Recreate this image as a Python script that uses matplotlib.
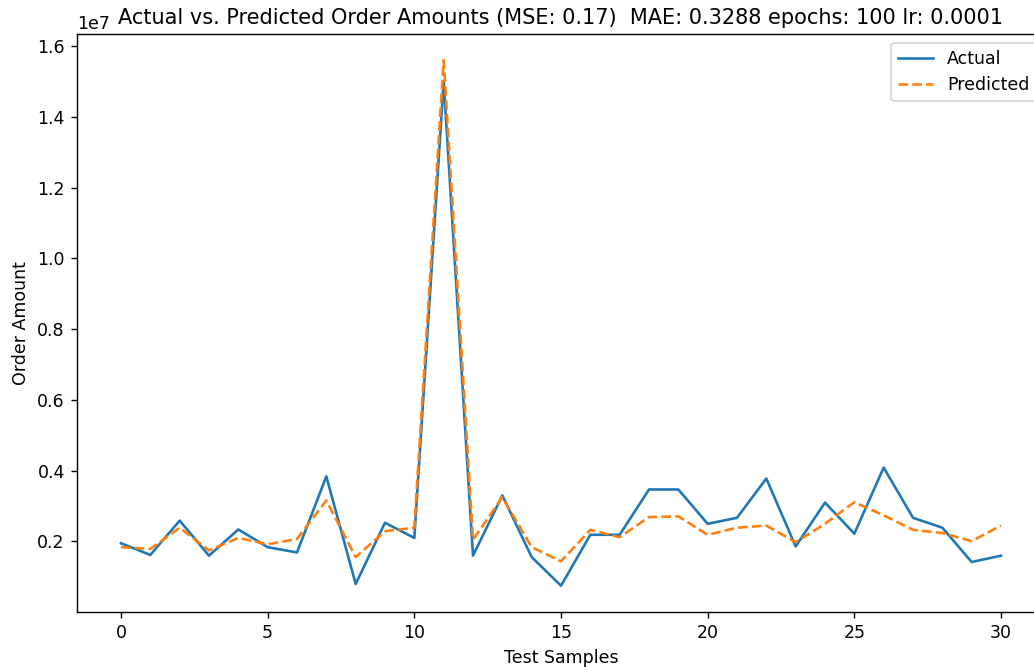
import matplotlib
matplotlib.use("Agg")
import matplotlib.pyplot as plt

# values (order amounts)
samples = list(range(31))
actual = [1.95e6, 1.62e6, 2.59e6, 1.60e6, 2.34e6, 1.84e6, 1.69e6, 3.84e6, 0.80e6, 2.53e6,
          2.10e6, 15.0e6, 1.60e6, 3.30e6, 1.56e6, 0.75e6, 2.19e6, 2.19e6, 3.47e6, 3.47e6,
          2.50e6, 2.67e6, 3.78e6, 1.86e6, 3.10e6, 2.22e6, 4.09e6, 2.67e6, 2.39e6, 1.42e6,
          1.60e6]
predicted = [1.84e6, 1.79e6, 2.39e6, 1.75e6, 2.10e6, 1.92e6, 2.07e6, 3.16e6, 1.56e6, 2.29e6,
             2.39e6, 15.6e6, 2.05e6, 3.25e6, 1.84e6, 1.44e6, 2.33e6, 2.12e6, 2.69e6, 2.71e6,
             2.19e6, 2.39e6, 2.45e6, 1.98e6, 2.50e6, 3.11e6, 2.74e6, 2.33e6, 2.24e6, 2.01e6,
             2.45e6]

mse = 0.17
mae = 0.3288
epochs = 100
lr = 0.0001

W, H = 1034, 667
DPI = 125  # reference looks like a 1.25x scaled screenshot
fig = plt.figure(figsize=(W / DPI, H / DPI), dpi=DPI)
# axes run a little past the right edge, like the cropped reference
ax = fig.add_axes([77 / W, 55 / H, 968 / W, 578 / H])

ax.plot(samples, actual, label='Actual')
ax.plot(samples, predicted, label='Predicted', linestyle='--')
ax.set_xlabel('Test Samples')
ax.set_ylabel('Order Amount')
ax.set_title(f'Actual vs. Predicted Order Amounts (MSE: {mse})  MAE: {mae} epochs: {epochs} lr: {lr}')
ax.legend()

fig.savefig('out.png', dpi=DPI)
